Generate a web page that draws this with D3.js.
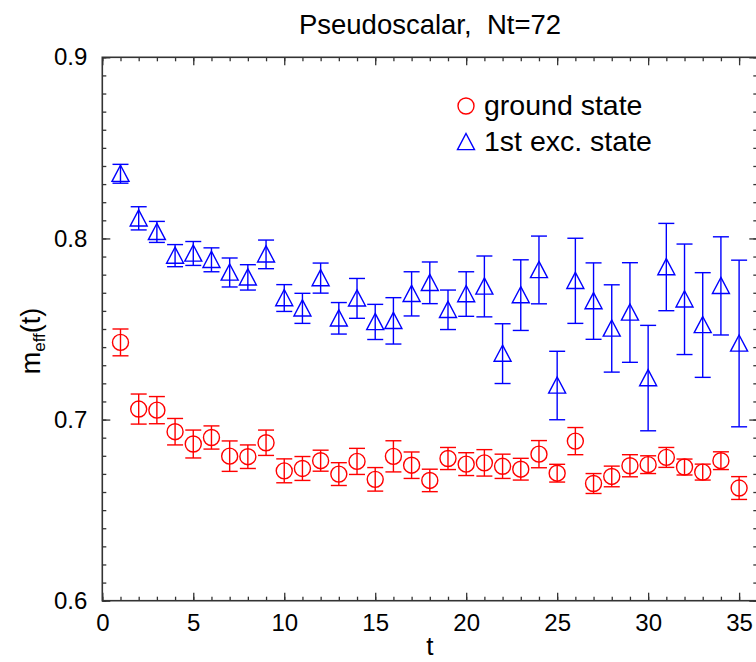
<!DOCTYPE html>
<html lang="en">
  <head>
    <meta charset="UTF-8" />
    <title>Pseudoscalar, Nt=72</title>
    <style>
      body { margin: 0; background: #fff; }
      text { font-family: "Liberation Sans", Arial, Helvetica, sans-serif; }
    </style>
  </head>
  <body>
    <script src="https://d3js.org/d3.v7.min.js"></script>
    <script>
      const width = 756;
      const height = 662;

      const tValues = d3.range(1, 36);
      const groundMass = [
        0.7426, 0.7058, 0.7052, 0.6933, 0.6865, 0.6901, 0.6798, 0.6795, 0.6872,
        0.6717, 0.673, 0.6773, 0.6699, 0.6769, 0.667, 0.6797, 0.6748, 0.6664,
        0.6785, 0.6754, 0.6761, 0.6742, 0.6726, 0.6809, 0.6704, 0.6881, 0.6647,
        0.6686, 0.6745, 0.6751, 0.6791, 0.6738, 0.671, 0.6773, 0.6622,
      ];
      const groundErr = [
        0.0074, 0.0083, 0.0075, 0.0073, 0.0077, 0.0064, 0.0084, 0.0065, 0.007,
        0.0066, 0.0066, 0.0058, 0.0063, 0.0072, 0.0065, 0.0086, 0.0073, 0.0062,
        0.0061, 0.0063, 0.0073, 0.0067, 0.006, 0.0075, 0.0049, 0.0075, 0.0055,
        0.0057, 0.0061, 0.0049, 0.0055, 0.0044, 0.0044, 0.0049, 0.0063,
      ];
      const excitedMass = [
        0.8357, 0.8111, 0.8036, 0.7905, 0.7917, 0.7882, 0.7812, 0.7785, 0.7912,
        0.7671, 0.7614, 0.7781, 0.7559, 0.7669, 0.7539, 0.7545, 0.7694, 0.7755,
        0.7606, 0.7693, 0.7735, 0.7364, 0.7687, 0.7826, 0.7188, 0.7766, 0.7654,
        0.7503, 0.7591, 0.7229, 0.7842, 0.7664, 0.7522, 0.7738, 0.742,
      ];
      const excitedErr = [
        0.0052, 0.0064, 0.0058, 0.0061, 0.0066, 0.0066, 0.008, 0.007, 0.0079,
        0.0074, 0.0083, 0.0083, 0.0087, 0.011, 0.0097, 0.0128, 0.0122, 0.0115,
        0.0109, 0.0123, 0.0168, 0.0165, 0.0195, 0.0187, 0.0189, 0.0235, 0.0211,
        0.0241, 0.0275, 0.0291, 0.0241, 0.0305, 0.0289, 0.0271, 0.046,
      ];
      const xTicks = [0, 5, 10, 15, 20, 25, 30, 35];
      const yTicks = [0.6, 0.7, 0.8, 0.9];

      const plotLeft = 102.3, plotRight = 757.3, plotTop = 57.3, plotBottom = 600.7;

      const x = d3.scaleLinear().domain([0, 36]).range([plotLeft, plotRight]);
      const y = d3.scaleLinear().domain([0.6, 0.9]).range([plotBottom, plotTop]);

      const svg = d3
        .select("body")
        .append("svg")
        .attr("width", width)
        .attr("height", height);

      const axisColor = "#333";

      // minor ticks
      const xMinor = d3.range(0, 37);
      const yMinor = d3.range(60, 91).map((d) => d / 100);

      function drawAxis(axis, transform, labels) {
        const g = svg.append("g").attr("transform", transform).call(axis);
        g.select(".domain").remove();
        g.selectAll(".tick line").attr("stroke", axisColor).attr("stroke-width", 1.3);
        if (!labels) g.selectAll(".tick text").remove();
        return g;
      }

      drawAxis(d3.axisBottom(x).tickValues(xMinor).tickSize(-4).tickFormat(""), `translate(0,${plotBottom})`);
      drawAxis(d3.axisTop(x).tickValues(xMinor).tickSize(-4).tickFormat(""), `translate(0,${plotTop})`);
      drawAxis(d3.axisLeft(y).tickValues(yMinor).tickSize(-4).tickFormat(""), `translate(${plotLeft},0)`);
      drawAxis(d3.axisRight(y).tickValues(yMinor).tickSize(-4).tickFormat(""), `translate(${plotRight},0)`);

      const xAxis = drawAxis(
        d3.axisBottom(x).tickValues(xTicks).tickSize(-8).tickPadding(13).tickFormat(d3.format("d")),
        `translate(0,${plotBottom})`,
        true
      );
      xAxis.selectAll(".tick text").attr("font-size", 24).attr("fill", "#000");
      drawAxis(d3.axisTop(x).tickValues(xTicks).tickSize(-8).tickFormat(""), `translate(0,${plotTop})`);
      const yAxis = drawAxis(
        d3.axisLeft(y).tickValues(yTicks).tickSize(-8).tickPadding(15).tickFormat(d3.format(".1f")),
        `translate(${plotLeft},0)`,
        true
      );
      yAxis.selectAll(".tick text").attr("font-size", 24).attr("fill", "#000");
      drawAxis(d3.axisRight(y).tickValues(yTicks).tickSize(-8).tickFormat(""), `translate(${plotRight},0)`);

      svg
        .append("rect")
        .attr("x", plotLeft)
        .attr("y", plotTop)
        .attr("width", plotRight - plotLeft)
        .attr("height", plotBottom - plotTop)
        .attr("fill", "none")
        .attr("stroke", axisColor)
        .attr("stroke-width", 1.6);

      const ground = tValues.map((t, i) => ({ t, m: groundMass[i], e: groundErr[i] }));
      const excited = tValues.map((t, i) => ({ t, m: excitedMass[i], e: excitedErr[i] }));

      const capHalf = 8;
      function errorBars(data, color) {
        const g = svg.append("g").attr("stroke", color).attr("stroke-width", 1.4).attr("fill", "none");
        const bars = g.selectAll("g").data(data).join("g");
        bars
          .append("line")
          .attr("x1", (d) => x(d.t))
          .attr("x2", (d) => x(d.t))
          .attr("y1", (d) => y(d.m + d.e))
          .attr("y2", (d) => y(d.m - d.e));
        bars
          .append("line")
          .attr("x1", (d) => x(d.t) - capHalf)
          .attr("x2", (d) => x(d.t) + capHalf)
          .attr("y1", (d) => y(d.m + d.e))
          .attr("y2", (d) => y(d.m + d.e));
        bars
          .append("line")
          .attr("x1", (d) => x(d.t) - capHalf)
          .attr("x2", (d) => x(d.t) + capHalf)
          .attr("y1", (d) => y(d.m - d.e))
          .attr("y2", (d) => y(d.m - d.e));
      }

      const triPath = (cx, cy, s) =>
        `M${cx},${cy - s}L${cx + s},${cy + s * 0.9}L${cx - s},${cy + s * 0.9}Z`;

      errorBars(excited, "#0000ff");
      svg
        .append("g")
        .selectAll("path")
        .data(excited)
        .join("path")
        .attr("d", (d) => triPath(x(d.t), y(d.m), 8.5))
        .attr("fill", "none")
        .attr("stroke", "#0000ff")
        .attr("stroke-width", 1.4);

      errorBars(ground, "#ff0000");
      svg
        .append("g")
        .selectAll("circle")
        .data(ground)
        .join("circle")
        .attr("cx", (d) => x(d.t))
        .attr("cy", (d) => y(d.m))
        .attr("r", 8)
        .attr("fill", "none")
        .attr("stroke", "#ff0000")
        .attr("stroke-width", 1.4);

      // legend
      svg
        .append("circle")
        .attr("cx", 466)
        .attr("cy", 106)
        .attr("r", 8)
        .attr("fill", "none")
        .attr("stroke", "#ff0000")
        .attr("stroke-width", 1.4);
      svg
        .append("text")
        .attr("x", 484)
        .attr("y", 115)
        .attr("font-size", 28.5)
        .text("ground state");
      svg
        .append("path")
        .attr("d", triPath(466, 142, 8.5))
        .attr("fill", "none")
        .attr("stroke", "#0000ff")
        .attr("stroke-width", 1.4);
      svg
        .append("text")
        .attr("x", 484)
        .attr("y", 151)
        .attr("font-size", 28.5)
        .text("1st exc. state");

      // title and axis labels
      svg
        .append("text")
        .attr("x", 430)
        .attr("y", 34)
        .attr("text-anchor", "middle")
        .attr("font-size", 27.5)
        .attr("xml:space", "preserve")
        .text("Pseudoscalar,  Nt=72");

      svg
        .append("text")
        .attr("x", (plotLeft + plotRight) / 2)
        .attr("y", 655)
        .attr("text-anchor", "middle")
        .attr("font-size", 26)
        .text("t");

      const ylab = svg
        .append("text")
        .attr("transform", `translate(40,${(plotTop + plotBottom) / 2 + 12}) rotate(-90)`)
        .attr("text-anchor", "middle")
        .attr("font-size", 27);
      ylab.append("tspan").text("m");
      ylab.append("tspan").attr("font-size", 17).attr("dy", 5).text("eff");
      ylab.append("tspan").attr("dy", -5).text("(t)");
    </script>
  </body>
</html>
